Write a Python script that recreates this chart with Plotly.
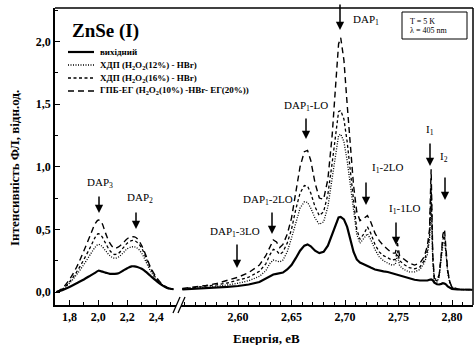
import plotly.graph_objects as go

# ---------------- data ----------------
series_names = ["вихідний", "ХДП (H<sub>2</sub>O<sub>2</sub>(12%) - HBr)",
                "ХДП (H<sub>2</sub>O<sub>2</sub>(16%) - HBr)",
                "ГПБ-ЕГ (H<sub>2</sub>O<sub>2</sub>(10%) -HBr- ЕГ(20%))"]

x_left = [1.71, 1.75, 1.80, 1.85, 1.90, 1.95, 1.98, 2.00, 2.02, 2.05, 2.08, 2.11, 2.14,
          2.17, 2.20, 2.23, 2.25, 2.27, 2.30, 2.33, 2.36, 2.40, 2.44, 2.48, 2.52]
solid_left = [0.00, 0.015, 0.04, 0.07, 0.10, 0.135, 0.155, 0.170, 0.165, 0.155, 0.145, 0.145, 0.150,
              0.170, 0.190, 0.205, 0.205, 0.200, 0.185, 0.160, 0.130, 0.090, 0.055, 0.030, 0.022]
dot_left = [0.00, 0.02, 0.07, 0.14, 0.22, 0.31, 0.36, 0.38, 0.37, 0.33, 0.29, 0.27, 0.28,
            0.31, 0.345, 0.36, 0.36, 0.35, 0.31, 0.24, 0.17, 0.10, 0.055, 0.03, 0.022]
sdash_left = [0.00, 0.022, 0.08, 0.16, 0.26, 0.37, 0.44, 0.465, 0.45, 0.39, 0.33, 0.30, 0.31,
              0.35, 0.39, 0.41, 0.41, 0.395, 0.35, 0.27, 0.19, 0.11, 0.06, 0.033, 0.024]
ldash_left = [0.00, 0.03, 0.10, 0.20, 0.33, 0.47, 0.55, 0.575, 0.56, 0.47, 0.39, 0.35, 0.36,
              0.39, 0.425, 0.44, 0.44, 0.425, 0.37, 0.29, 0.20, 0.12, 0.065, 0.035, 0.025]

x_right = [2.548, 2.56, 2.57, 2.58, 2.59, 2.60, 2.61, 2.62, 2.626, 2.630, 2.633, 2.636, 2.639,
           2.642, 2.646, 2.650, 2.654, 2.658, 2.662, 2.665, 2.668, 2.672, 2.676, 2.680, 2.684,
           2.688, 2.691, 2.694, 2.696, 2.699, 2.702, 2.705, 2.708, 2.711, 2.714, 2.718, 2.721,
           2.724, 2.728, 2.732, 2.736, 2.740, 2.744, 2.747, 2.749, 2.751, 2.755, 2.760, 2.765,
           2.770, 2.774, 2.777, 2.779, 2.7805, 2.782, 2.7835, 2.786, 2.788, 2.790, 2.7915, 2.793,
           2.7945, 2.796, 2.798, 2.800, 2.805, 2.810, 2.819]
solid_right = [0.020, 0.025, 0.030, 0.035, 0.041, 0.048, 0.060, 0.080, 0.105, 0.128, 0.140, 0.145, 0.148,
               0.155, 0.180, 0.215, 0.270, 0.330, 0.370, 0.380, 0.365, 0.330, 0.310, 0.320, 0.370,
               0.460, 0.540, 0.595, 0.600, 0.580, 0.520, 0.420, 0.320, 0.260, 0.235, 0.220, 0.210,
               0.195, 0.180, 0.170, 0.165, 0.160, 0.150, 0.140, 0.140, 0.135, 0.120, 0.108, 0.098,
               0.092, 0.090, 0.092, 0.098, 0.100, 0.095, 0.075, 0.062, 0.060, 0.065, 0.070, 0.068,
               0.060, 0.045, 0.032, 0.025, 0.020, 0.018, 0.018]
dot_right = [0.022, 0.030, 0.037, 0.045, 0.056, 0.070, 0.090, 0.125, 0.170, 0.230, 0.255, 0.250, 0.240,
             0.255, 0.320, 0.430, 0.560, 0.670, 0.720, 0.715, 0.670, 0.590, 0.540, 0.560, 0.680,
             0.900, 1.100, 1.250, 1.260, 1.200, 1.050, 0.850, 0.630, 0.460, 0.390, 0.430, 0.465,
             0.420, 0.340, 0.280, 0.250, 0.230, 0.215, 0.220, 0.300, 0.210, 0.180, 0.160, 0.160,
             0.180, 0.230, 0.300, 0.420, 0.720, 0.250, 0.090, 0.080, 0.120, 0.250, 0.380, 0.400,
             0.300, 0.150, 0.070, 0.035, 0.022, 0.019, 0.018]
sdash_right = [0.025, 0.035, 0.045, 0.057, 0.072, 0.092, 0.118, 0.165, 0.225, 0.300, 0.340, 0.330, 0.300,
               0.320, 0.390, 0.500, 0.660, 0.790, 0.850, 0.845, 0.790, 0.680, 0.610, 0.640, 0.780,
               1.030, 1.260, 1.440, 1.450, 1.380, 1.200, 0.960, 0.720, 0.500, 0.420, 0.470, 0.520,
               0.470, 0.380, 0.320, 0.290, 0.270, 0.255, 0.260, 0.330, 0.250, 0.220, 0.195, 0.185,
               0.200, 0.250, 0.330, 0.450, 0.860, 0.280, 0.100, 0.090, 0.130, 0.270, 0.420, 0.450,
               0.330, 0.160, 0.075, 0.038, 0.024, 0.020, 0.019]
ldash_right = [0.028, 0.040, 0.052, 0.068, 0.090, 0.118, 0.155, 0.215, 0.290, 0.370, 0.415, 0.400, 0.355,
               0.380, 0.460, 0.590, 0.800, 1.000, 1.120, 1.130, 1.050, 0.870, 0.750, 0.740, 0.900,
               1.250, 1.620, 1.980, 2.030, 1.850, 1.500, 1.150, 0.850, 0.640, 0.570, 0.590, 0.610,
               0.560, 0.470, 0.410, 0.370, 0.340, 0.310, 0.310, 0.390, 0.290, 0.260, 0.230, 0.215,
               0.230, 0.280, 0.370, 0.500, 0.980, 0.300, 0.110, 0.095, 0.140, 0.300, 0.460, 0.500,
               0.360, 0.170, 0.080, 0.040, 0.025, 0.021, 0.020]

left_tickvals = [1.8, 2.0, 2.2, 2.4]
left_ticktext = ["1,8", "2,0", "2,2", "2,4"]
right_tickvals = [2.60, 2.65, 2.70, 2.75, 2.80]
right_ticktext = ["2,60", "2,65", "2,70", "2,75", "2,80"]
y_tickvals = [0.0, 0.5, 1.0, 1.5, 2.0]
y_ticktext = ["0,0", "0,5", "1,0", "1,5", "2,0"]

peak_labels = ["DAP<sub>3</sub>", "DAP<sub>2</sub>", "DAP<sub>1</sub>-3LO", "DAP<sub>1</sub>-2LO",
               "DAP<sub>1</sub>-LO", "DAP<sub>1</sub>", "I<sub>1</sub>-2LO", "I<sub>1</sub>-1LO",
               "I<sub>1</sub>", "I<sub>2</sub>"]

# ---------------- layout helpers (pixels -> paper) ----------------
W, H = 475, 345
L, R, T, B = 55, 473, 8, 305
def pxx(x): return (x - L) / (R - L)
def pyy(y): return (B - y) / (B - T)

SERIF = "Liberation Serif, Times New Roman, serif"
styles = [dict(color="black", width=2.2, dash="solid"),
          dict(color="black", width=1.3, dash="1px,1.5px"),
          dict(color="black", width=1.3, dash="3px,2.5px"),
          dict(color="black", width=1.4, dash="6px,4px")]

fig = go.Figure()
lefts = [solid_left, dot_left, sdash_left, ldash_left]
rights = [solid_right, dot_right, sdash_right, ldash_right]
for i in range(4):
    fig.add_trace(go.Scatter(x=x_left, y=lefts[i], mode="lines", line=styles[i],
                             name=series_names[i], showlegend=False, xaxis="x", yaxis="y",
                             line_shape="spline"))
    fig.add_trace(go.Scatter(x=x_right, y=rights[i], mode="lines", line=styles[i],
                             name=series_names[i], showlegend=False, xaxis="x2", yaxis="y",
                             line_shape="linear"))

tickfont = dict(family=SERIF, size=12, color="black", weight="bold")
axis_common = dict(showgrid=False, zeroline=False, ticks="inside", ticklen=5, tickwidth=1.2,
                   tickcolor="black", showline=True, linecolor="black", linewidth=1.5,
                   tickfont=tickfont)

fig.update_layout(
    width=W, height=H, margin=dict(l=L, r=W - R, t=T, b=H - B),
    paper_bgcolor="white", plot_bgcolor="white",
    xaxis=dict(domain=[0, pxx(176)], range=[1.70, 1.70 + (176 - 55) / 144.5],
               tickmode="array", tickvals=left_tickvals, ticktext=left_ticktext,
               minor=dict(tick0=1.7, dtick=0.1, ticks="inside", ticklen=3, tickcolor="black"),
               anchor="y", **axis_common),
    xaxis2=dict(domain=[pxx(181), 1], range=[2.60 - 57 / 1070, 2.60 + 235 / 1070],
                tickmode="array", tickvals=right_tickvals, ticktext=right_ticktext,
                minor=dict(tick0=2.55, dtick=0.01, ticks="inside", ticklen=3, tickcolor="black"),
                anchor="y", **axis_common),
    yaxis=dict(range=[-13 / 125.3, 2.0 + 33.5 / 125.3], tickmode="array",
               tickvals=y_tickvals, ticktext=y_ticktext,
               minor=dict(tick0=0, dtick=0.25, ticks="inside", ticklen=3, tickcolor="black"),
               anchor="x", **axis_common),
)

shapes = []
shapes.append(dict(type="line", xref="paper", yref="paper", x0=0, x1=1, y0=1, y1=1,
                   line=dict(color="black", width=1.5)))
shapes.append(dict(type="line", xref="paper", yref="paper", x0=1, x1=1, y0=0, y1=1,
                   line=dict(color="black", width=1.5)))
for dx in (0, 5):
    shapes.append(dict(type="line", xref="paper", yref="paper",
                       x0=pxx(173 + dx), y0=pyy(313), x1=pxx(180 + dx), y1=pyy(297),
                       line=dict(color="black", width=1.3)))
leg_y = [52, 65, 78, 91]
for i in range(4):
    shapes.append(dict(type="line", xref="paper", yref="paper", x0=pxx(68), x1=pxx(94),
                       y0=pyy(leg_y[i]), y1=pyy(leg_y[i]),
                       line=dict(color="black", width=styles[i]["width"], dash=styles[i]["dash"])))
shapes.append(dict(type="rect", xref="paper", yref="paper", x0=pxx(402), x1=pxx(467),
                   y0=pyy(39), y1=pyy(12), line=dict(color="black", width=1)))
fig.update_layout(shapes=shapes)

ann = []
def text(x, y, s, size=11, weight="normal", xanchor="center", **kw):
    ann.append(dict(xref="paper", yref="paper", x=pxx(x), y=pyy(y), text=s, showarrow=False,
                    xanchor=xanchor, yanchor="middle",
                    font=dict(family=SERIF, size=size, color="black", weight=weight), **kw))

text(70, 31, "ZnSe (I)", size=19, weight="bold", xanchor="left")
for i in range(4):
    text(98, leg_y[i], series_names[i], size=9, weight="bold", xanchor="left")
text(408, 21, "T = 5 K", size=8, xanchor="left")
text(408, 31, "λ = 405 nm", size=8, xanchor="left")

label_pos = [(100, 183), (140, 198), (235, 232), (268, 200), (306, 106),
             (366, 20), (387, 168), (404, 209), (430, 130), (444, 157)]
arrow_pos = [(99, 195, 213), (136, 211, 229), (237, 243, 268), (272, 211, 234), (306, 117, 139),
             (340, 3, 30), (366, 181, 205), (396, 221, 245), (430, 142, 166), (445, 176, 200)]
for (lx, ly), s in zip(label_pos, peak_labels):
    text(lx, ly, s, size=11)
for (ax_, y0, y1) in arrow_pos:
    ann.append(dict(xref="paper", yref="paper", x=pxx(ax_), y=pyy(y1), ax=0, ay=-(y1 - y0),
                    text="", showarrow=True, arrowhead=2, arrowsize=1.1, arrowwidth=1.5,
                    arrowcolor="black", standoff=0))

text(266, 338, "Енергія, еВ", size=13, weight="bold")
ann.append(dict(xref="paper", yref="paper", x=pxx(14), y=pyy(168), text="Інтенсивність ФЛ, відн.од.",
                showarrow=False, textangle=-90, xanchor="center", yanchor="middle",
                font=dict(family=SERIF, size=13, color="black", weight="bold")))
fig.update_layout(annotations=ann)

fig.write_html("out.html", config={"displayModeBar": False},
               post_script="document.body.style.margin='0';document.body.style.padding='0';")
